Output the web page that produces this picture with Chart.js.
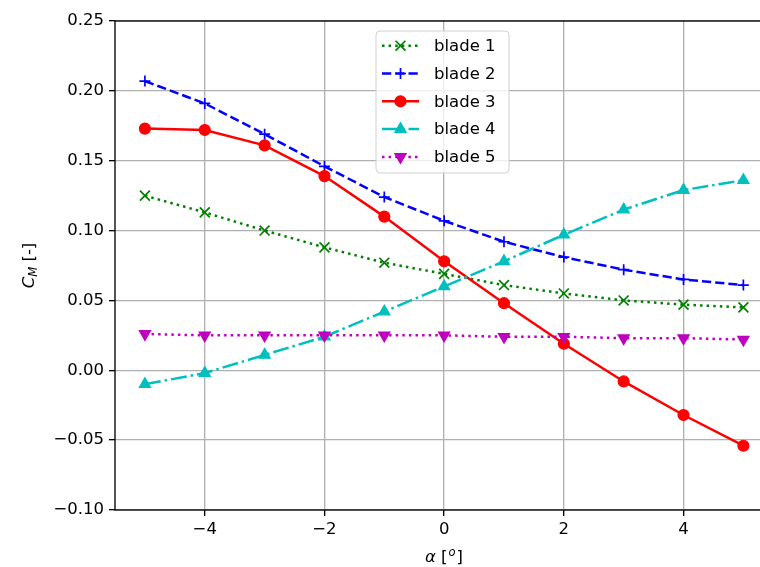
<!DOCTYPE html>
<html>
<head>
<meta charset="utf-8">
<script src="https://cdn.jsdelivr.net/npm/chart.js@4/dist/chart.umd.min.js"></script>
<style>
  html, body { margin: 0; padding: 0; background: #fff; overflow: hidden; }
  canvas { display: block; }
</style>
</head>
<body>
<canvas id="cm-chart" width="782" height="567"></canvas>
<script>
// angle of attack [deg]
const alpha = [-5, -4, -3, -2, -1, 0, 1, 2, 3, 4, 5];

// moment coefficient per blade
const blade1 = [0.125, 0.113, 0.100, 0.088, 0.077, 0.069, 0.061, 0.055, 0.050, 0.047, 0.045];
const blade2 = [0.207, 0.191, 0.169, 0.146, 0.124, 0.107, 0.092, 0.081, 0.072, 0.065, 0.061];
const blade3 = [0.173, 0.172, 0.161, 0.139, 0.110, 0.078, 0.048, 0.019, -0.008, -0.032, -0.054];
const blade4 = [-0.010, -0.002, 0.011, 0.024, 0.042, 0.060, 0.078, 0.097, 0.115, 0.129, 0.136];
const blade5 = [0.026, 0.025, 0.025, 0.025, 0.025, 0.025, 0.024, 0.024, 0.023, 0.023, 0.022];

const bladeLabels = ["blade 1", "blade 2", "blade 3", "blade 4", "blade 5"];
const xTicks = [-4, -2, 0, 2, 4];
const yTicks = [-0.10, -0.05, 0.00, 0.05, 0.10, 0.15, 0.20, 0.25];

const FONT = "DejaVu Sans";
const FS = 16.5;
Chart.defaults.font.family = FONT;
Chart.defaults.font.size = FS;
Chart.defaults.color = "#000";

const lw = 2.5;
const styles = [
  { color: "#008000", dash: [2.5, 4.1], point: "crossRot", radius: 7, rot: 0 },
  { color: "#0000ff", dash: [9.25, 4], point: "cross", radius: 5.5, rot: 0 },
  { color: "#ff0000", dash: [], point: "circle", radius: 5.5, rot: 0 },
  { color: "#00bfbf", dash: [16, 4, 2.5, 4], point: "triangle", radius: 6.5, rot: 0 },
  { color: "#bf00bf", dash: [2.5, 4.1], point: "triangle", radius: 6.5, rot: 180 },
];

const series = [blade1, blade2, blade3, blade4, blade5];

const minus = (s) => s.replace("-", "\u2212");

const datasets = series.map((vals, i) => {
  const st = styles[i];
  const filled = st.point === "circle" || st.point === "triangle";
  return {
    label: bladeLabels[i],
    data: alpha.map((a, j) => ({ x: a, y: vals[j] })),
    borderColor: st.color,
    backgroundColor: st.color,
    borderWidth: lw,
    borderDash: st.dash,
    pointStyle: st.point,
    pointRadius: st.radius,
    pointHoverRadius: st.radius,
    pointRotation: st.rot,
    pointBorderColor: st.color,
    pointBackgroundColor: filled ? st.color : "transparent",
    pointBorderWidth: filled ? 1.2 : 1.7,
    tension: 0,
    fill: false,
    order: 5 - i,
  };
});

// frame, axis titles with sub/superscripts, and matplotlib-like legend
const extras = {
  id: "extras",
  afterDatasetsDraw(chart) {
    const { ctx, chartArea: ca } = chart;
    ctx.save();
    ctx.strokeStyle = "#000";
    ctx.lineWidth = 1.33;
    ctx.strokeRect(ca.left, ca.top, ca.right - ca.left, ca.bottom - ca.top);
    ctx.restore();
  },
  afterDraw(chart) {
    const { ctx, chartArea: ca } = chart;
    ctx.save();
    ctx.fillStyle = "#000";
    ctx.textBaseline = "alphabetic";

    // y title: C_M [-]
    const it = `italic ${FS}px ${FONT}`;
    const itSmall = `italic ${FS * 0.7}px ${FONT}`;
    const norm = `${FS}px ${FONT}`;
    ctx.save();
    ctx.translate(28, (ca.top + ca.bottom) / 2);
    ctx.rotate(-Math.PI / 2);
    ctx.font = it; const wC = ctx.measureText("C").width;
    ctx.font = itSmall; const wM = ctx.measureText("M").width;
    ctx.font = norm; const wB = ctx.measureText(" [-]").width;
    let x = -(wC + wM + wB) / 2;
    const base = 6;
    ctx.font = it; ctx.fillText("C", x, base); x += wC;
    ctx.font = itSmall; ctx.fillText("M", x, base + 3); x += wM;
    ctx.font = norm; ctx.fillText(" [-]", x, base);
    ctx.restore();

    // x title: alpha [^o]
    ctx.font = it; const wA = ctx.measureText("\u03b1").width;
    ctx.font = norm; const wL = ctx.measureText(" [").width;
    ctx.font = itSmall; const wO = ctx.measureText("o").width;
    ctx.font = norm; const wR = ctx.measureText("]").width;
    let xx = 443 - (wA + wL + wO + wR) / 2;
    const yb = 562;
    ctx.font = it; ctx.fillText("\u03b1", xx, yb); xx += wA;
    ctx.font = norm; ctx.fillText(" [", xx, yb); xx += wL;
    ctx.font = itSmall; ctx.fillText("o", xx + 1, yb - 6); xx += wO + 2;
    ctx.font = norm; ctx.fillText("]", xx, yb);

    // legend
    const bx = 376, by = 31, bw = 133, bh = 142, r = 4;
    ctx.beginPath();
    ctx.moveTo(bx + r, by);
    ctx.lineTo(bx + bw - r, by);
    ctx.quadraticCurveTo(bx + bw, by, bx + bw, by + r);
    ctx.lineTo(bx + bw, by + bh - r);
    ctx.quadraticCurveTo(bx + bw, by + bh, bx + bw - r, by + bh);
    ctx.lineTo(bx + r, by + bh);
    ctx.quadraticCurveTo(bx, by + bh, bx, by + bh - r);
    ctx.lineTo(bx, by + r);
    ctx.quadraticCurveTo(bx, by, bx + r, by);
    ctx.closePath();
    ctx.fillStyle = "rgba(255,255,255,0.8)";
    ctx.fill();
    ctx.strokeStyle = "#d0d0d0";
    ctx.lineWidth = 1;
    ctx.stroke();

    ctx.font = norm;
    ctx.textBaseline = "middle";
    datasets.forEach((ds, i) => {
      const st = styles[i];
      const ry = 45.7 + i * 27.8;
      ctx.save();
      ctx.strokeStyle = st.color;
      ctx.lineWidth = lw;
      ctx.setLineDash(st.dash);
      ctx.beginPath();
      ctx.moveTo(382, ry);
      ctx.lineTo(419, ry);
      ctx.stroke();
      ctx.setLineDash([]);
      ctx.fillStyle = ds.pointBackgroundColor;
      ctx.strokeStyle = st.color;
      ctx.lineWidth = ds.pointBorderWidth;
      Chart.helpers.drawPoint(ctx, {
        pointStyle: st.point, rotation: st.rot, radius: st.radius, borderWidth: ds.pointBorderWidth,
      }, 400.5, ry);
      ctx.restore();
      ctx.fillStyle = "#000";
      ctx.fillText(ds.label, 434, ry + 1);
    });
    ctx.restore();
  },
};

new Chart(document.getElementById("cm-chart"), {
  type: "line",
  data: { datasets },
  options: {
    responsive: false,
    animation: false,
    layout: { padding: { top: 21, left: 0, right: 0, bottom: 0 } },
    plugins: { legend: { display: false }, tooltip: { enabled: false } },
    scales: {
      x: {
        type: "linear",
        min: -5.5,
        max: 5.5,
        afterBuildTicks: (s) => { s.ticks = xTicks.map((v) => ({ value: v })); },
        afterFit: (s) => { s.height = 57; },
        ticks: {
          padding: 4,
          maxRotation: 0,
          callback: (v) => minus(String(v)),
        },
        grid: { color: "#b0b0b0", lineWidth: 1.33, tickColor: "#000", tickLength: 6, tickWidth: 1.33 },
        border: { display: false },
      },
      y: {
        type: "linear",
        min: -0.10,
        max: 0.25,
        afterBuildTicks: (s) => { s.ticks = yTicks.map((v) => ({ value: v })); },
        afterFit: (s) => { s.width = 115; },
        ticks: {
          padding: 5,
          callback: (v) => minus(Number(v).toFixed(2)),
        },
        grid: { color: "#b0b0b0", lineWidth: 1.33, tickColor: "#000", tickLength: 6, tickWidth: 1.33 },
        border: { display: false },
      },
    },
  },
  plugins: [extras],
});
</script>
</body>
</html>
